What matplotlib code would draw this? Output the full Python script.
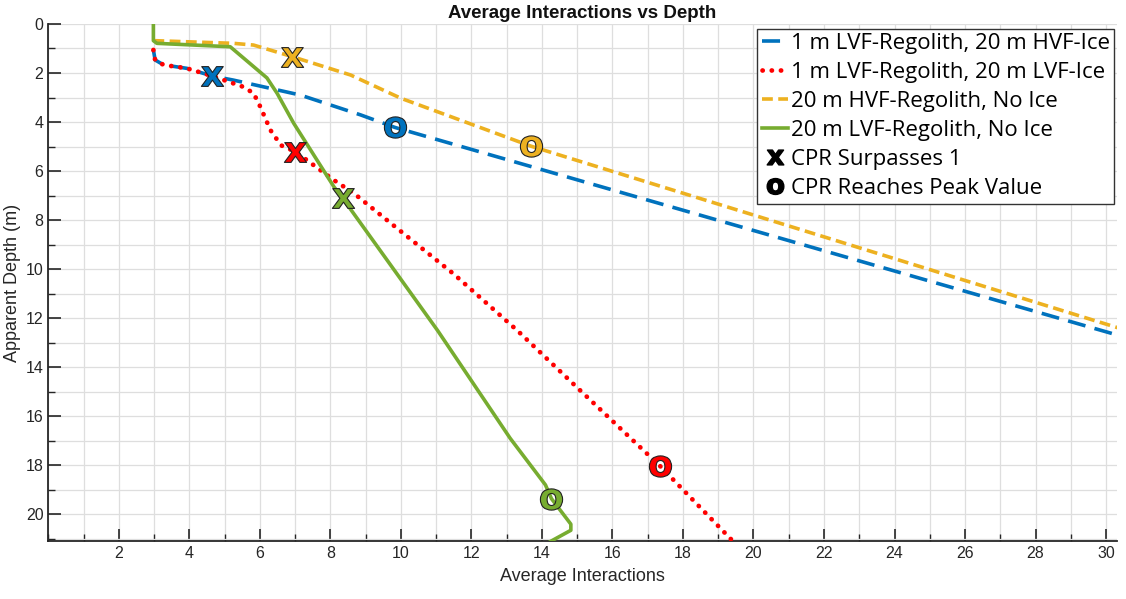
import matplotlib
matplotlib.use("Agg")
import matplotlib.pyplot as plt
from matplotlib.lines import Line2D
from matplotlib.ticker import MultipleLocator
import numpy as np

# ---- data ----
blue_x = [2.98, 3.03, 3.27, 3.93, 4.64, 5.25, 7.15, 8.86, 9.83, 30.4]
blue_y = [1.06, 1.47, 1.67, 1.81, 2.12, 2.29, 2.90, 3.71, 4.22, 12.72]

red_x = [2.98, 3.03, 3.27, 3.93, 4.64, 5.0, 5.5, 5.82, 6.01, 6.3, 6.6, 7.01, 8.1, 8.66, 10.0, 11.5, 13.3, 15.0, 17.35, 19.42]
red_y = [1.06, 1.47, 1.67, 1.81, 2.12, 2.3, 2.55, 2.82, 3.37, 4.33, 4.95, 5.21, 6.37, 6.9, 8.46, 10.2, 12.5, 14.83, 18.03, 21.1]

yellow_x = [2.98, 5.25, 5.82, 6.91, 8.57, 10.0, 13.68, 30.4]
yellow_y = [0.68, 0.79, 0.86, 1.33, 2.08, 3.03, 4.98, 12.42]

green_x = [2.98, 2.98, 3.08, 5.16, 6.2, 6.49, 6.96, 7.62, 8.1, 8.35, 11.04, 13.1, 14.1, 14.27, 14.82, 14.82, 14.25]
green_y = [0.0, 0.68, 0.79, 0.93, 2.2, 2.83, 4.05, 5.55, 6.64, 7.11, 12.5, 16.9, 18.8, 19.36, 20.4, 20.65, 21.1]

# CPR surpasses 1 (x markers): blue, red, yellow, green
cross_x = [4.64, 7.01, 6.91, 8.35]
cross_y = [2.12, 5.21, 1.36, 7.11]
# CPR reaches peak (o markers)
peak_x = [9.83, 17.35, 13.68, 14.27]
peak_y = [4.22, 18.03, 4.98, 19.36]

labels = ["1 m LVF-Regolith, 20 m HVF-Ice",
          "1 m LVF-Regolith, 20 m LVF-Ice",
          "20 m HVF-Regolith, No Ice",
          "20 m LVF-Regolith, No Ice"]
colors = ["#0072BD", "#FF0000", "#EDB120", "#77AC30"]

x_ticks = list(range(2, 31, 2))
y_ticks = list(range(0, 21, 2))

# ---- figure ----
fig = plt.figure(figsize=(11.26, 5.99), dpi=100)
ax = fig.add_axes([0.0429, 0.0963, 0.9488, 0.8637])

axc = "#262626"
ax.grid(True, which="both", color="#dedede", linewidth=0.9, zorder=0)
ax.set_axisbelow(True)

series = [(blue_x, blue_y), (red_x, red_y), (yellow_x, yellow_y), (green_x, green_y)]
styles = [dict(linestyle=(0, (5, 2.6)), linewidth=2.6),
          dict(linestyle=(0, (0.05, 1.9)), linewidth=3.4, dash_capstyle="round"),
          dict(linestyle=(0, (3.0, 1.5)), linewidth=2.6),
          dict(linestyle="-", linewidth=2.6)]
handles = []
for (xs, ys), c, st, lab in zip(series, colors, styles, labels):
    h, = ax.plot(xs, ys, color=c, label=lab, zorder=3, **st)
    handles.append(h)

for i, c in enumerate(colors):
    ax.plot(cross_x[i], cross_y[i], linestyle="none", marker=r"$\mathbf{x}$",
            markersize=16, markerfacecolor=c, markeredgecolor="#222222",
            markeredgewidth=0.8, zorder=5)
    ax.plot(peak_x[i], peak_y[i], linestyle="none", marker=r"$\mathbf{o}$",
            markersize=16, markerfacecolor=c, markeredgecolor="#222222",
            markeredgewidth=0.8, zorder=5)

ax.set_xlim(0, 30.3)
ax.set_ylim(21.1, 0)
ax.set_xticks(x_ticks)
ax.set_yticks(y_ticks)
ax.xaxis.set_minor_locator(MultipleLocator(1))
ax.yaxis.set_minor_locator(MultipleLocator(1))
ax.tick_params(which="major", direction="in", length=9, width=1.2, color=axc,
               labelsize=11.5, labelcolor=axc)
ax.tick_params(which="minor", direction="in", length=5, width=1.0, color=axc)
for lab in ax.get_xticklabels() + ax.get_yticklabels():
    lab.set_fontfamily("Liberation Sans")

for s in ["top", "right"]:
    ax.spines[s].set_visible(False)
for s in ["left", "bottom"]:
    ax.spines[s].set_color(axc)
    ax.spines[s].set_linewidth(1.3)

ax.set_xlabel("Average Interactions", fontsize=13, color=axc,
              fontfamily="Liberation Sans", labelpad=5)
ax.set_ylabel("Apparent Depth (m)", fontsize=13, color=axc,
              fontfamily="Liberation Sans", labelpad=3)
ax.set_title("Average Interactions vs Depth", fontsize=13.5, fontweight="bold",
             fontfamily="Liberation Sans", color="#111111", pad=4)

handles.append(Line2D([], [], linestyle="none", marker=r"$\mathbf{x}$",
                      markersize=12, color="black"))
handles.append(Line2D([], [], linestyle="none", marker=r"$\mathbf{o}$",
                      markersize=12, color="black"))
leg_labels = labels + ["CPR Surpasses 1", "CPR Reaches Peak Value"]
leg = ax.legend(handles, leg_labels, loc="upper right", bbox_to_anchor=(1.0, 0.995),
                prop={"family": "Open Sans", "size": 16}, handlelength=1.2,
                handletextpad=0.12, borderpad=0.2, labelspacing=0.36,
                fancybox=False, framealpha=1, edgecolor="#333333",
                borderaxespad=0.1)
leg.get_frame().set_linewidth(1.0)

fig.savefig("out.png", dpi=100)
